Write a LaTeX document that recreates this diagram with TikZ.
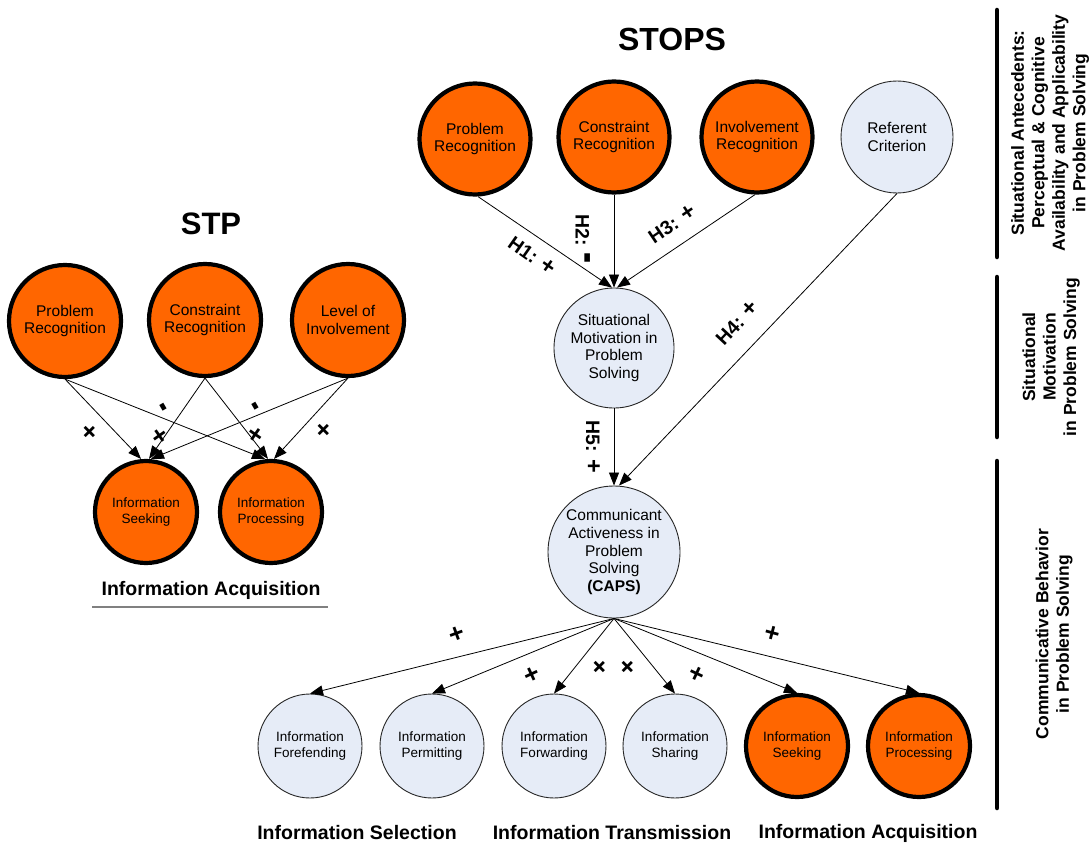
\documentclass[tikz,border=0pt]{standalone}
\usepackage{fontspec}
\setmainfont{Liberation Sans}
\usetikzlibrary{arrows.meta}
\definecolor{hotorange}{HTML}{FF6600}
\definecolor{paleblue}{HTML}{E6ECF7}

\begin{document}
\begin{tikzpicture}[x=1pt,y=-1pt,
  bigtext/.style={font=\fontsize{15.5}{17.8}\selectfont},
  smalltext/.style={font=\fontsize{13.5}{16}\selectfont},
  hot/.style={circle, draw=black, line width=4.2pt, fill=hotorange, inner sep=0pt, align=center},
  cool/.style={circle, draw=black!85, line width=0.9pt, fill=paleblue, inner sep=0pt, align=center},
  link/.style={-{Triangle[length=13pt,width=10pt]}, line width=0.8pt},
  sign/.style={font=\bfseries\fontsize{26}{26}\selectfont, inner sep=0pt},
  hyp/.style={font=\bfseries\fontsize{19.5}{19.5}\selectfont, inner sep=0pt},
  heading/.style={font=\bfseries\fontsize{31}{31}\selectfont, inner sep=0pt},
  grouplabel/.style={font=\bfseries\fontsize{19.5}{22}\selectfont, inner sep=0pt},
  sidetext/.style={font=\bfseries\fontsize{17.5}{20.5}\selectfont, rotate=90, align=center, inner sep=0pt},
  bar/.style={line width=4.5pt, line cap=round}
]
\useasboundingbox (0,0) rectangle (1091,848);

% ---------------- STP ----------------
\node[heading] (stptitle) at (211,224) {STP};
\node[hot, bigtext, minimum size=112pt] (stpPR) at (65,321) {Problem\\Recognition};
\node[hot, bigtext, minimum size=112pt] (stpCR) at (205,320) {Constraint\\Recognition};
\node[hot, bigtext, minimum size=112pt] (stpLI) at (348,320) {Level of\\Involvement};
\node[hot, smalltext, minimum size=102pt] (stpIS) at (146,512) {Information\\Seeking};
\node[hot, smalltext, minimum size=102pt] (stpIP) at (271,512) {Information\\Processing};

\draw[link] (stpPR.south) -- ([xshift=-5pt]stpIS.north);
\draw[link] (stpPR.south) -- ([xshift=-6pt]stpIP.north);
\draw[link] (stpCR.south) -- ([xshift=3pt]stpIS.north);
\draw[link] (stpCR.south) -- ([xshift=-3pt]stpIP.north);
\draw[link] (stpLI.south) -- ([xshift=5pt]stpIS.north);
\draw[link] (stpLI.south) -- ([xshift=3pt]stpIP.north);

\node[sign, rotate=45] (s1) at (90,433) {+};
\node[sign, rotate=-60] (s2) at (160,409) {\scalebox{1}[1.5]{-}};
\node[sign, rotate=35] (s3) at (160,437) {+};
\node[sign, rotate=-60] (s4) at (252,408) {\scalebox{1}[1.5]{-}};
\node[sign, rotate=-35] (s5) at (255,436) {+};
\node[sign, rotate=45] (s6) at (324,431) {+};

\node[grouplabel] (stpacq) at (211,590) {Information Acquisition};
\draw[gray, line width=2pt] (92,607) coordinate (ulA) -- (328,607) coordinate (ulB);

% ---------------- STOPS ----------------
\node[heading, font=\bfseries\fontsize{32}{32}\selectfont] (stopstitle) at (672,39) {STOPS};
\node[hot, bigtext, minimum size=111pt] (PR) at (475,139) {Problem\\Recognition};
\node[hot, bigtext, minimum size=111pt] (CR) at (614,137) {Constraint\\Recognition};
\node[hot, bigtext, minimum size=111pt] (IR) at (757,137) {Involvement\\Recognition};
\node[cool, bigtext, minimum size=112pt] (RC) at (897,137) {Referent\\Criterion};
\node[cool, bigtext, minimum size=120pt] (SM) at (614,348) {Situational\\Motivation in\\Problem\\Solving};
\node[cool, bigtext, minimum size=132pt] (CAPS) at (614,552) {Communicant\\Activeness in\\Problem\\Solving\\\textbf{(CAPS)}};

\draw[link] ([xshift=3pt]PR.south) -- ([xshift=-2pt]SM.north);
\draw[link] (CR.south) -- (SM.north);
\draw[link] ([xshift=-2pt]IR.south) -- ([xshift=3pt]SM.north);
\draw[link] (RC.south) -- ([xshift=5pt]CAPS.north);
\draw[link] (SM.south) -- (CAPS.north);

\node[hyp, rotate=-35] (h1) at (532,256) {H1: \scalebox{1.2}{+}};
\node[hyp, rotate=-90] (h2) at (583,239) {H2: \scalebox{1.7}[2.4]{-}};
\node[hyp, rotate=34] (h3) at (672,224) {H3: \scalebox{1.2}{+}};
\node[hyp, rotate=47] (h4) at (737,323) {H4: \scalebox{1.2}{+}};
\node[hyp, rotate=-90] (h5) at (593,447) {H5: \scalebox{1.2}{+}};

% communicative behaviours
\node[cool, smalltext, minimum size=104pt] (forefend) at (310,746) {Information\\Forefending};
\node[cool, smalltext, minimum size=104pt] (permit) at (432,746) {Information\\Permitting};
\node[cool, smalltext, minimum size=104pt] (forward) at (554,746) {Information\\Forwarding};
\node[cool, smalltext, minimum size=104pt] (share) at (675,746) {Information\\Sharing};
\node[hot, smalltext, minimum size=102pt] (seek) at (797,746) {Information\\Seeking};
\node[hot, smalltext, minimum size=102pt] (process) at (919,746) {Information\\Processing};

\foreach \t in {forefend,permit,forward,share,seek,process}
  \draw[link] (CAPS.south) -- (\t.north);

\node[sign, rotate=20] (b1) at (457,635) {+};
\node[sign, rotate=25] (b2) at (532,675) {+};
\node[sign, rotate=45] (b3) at (600,668) {+};
\node[sign, rotate=45] (b4) at (628,668) {+};
\node[sign, rotate=-25] (b5) at (697,675) {+};
\node[sign, rotate=-15] (b6) at (772,634) {+};

\node[grouplabel] (selection) at (357,833) {Information Selection};
\node[grouplabel] (transmission) at (612,833) {Information Transmission};
\node[grouplabel] (acquisition) at (868,833) {Information Acquisition};

% ---------------- level bars and captions ----------------
\draw[bar] (997,10) coordinate (barAtop) -- (997,257) coordinate (barAbot);
\draw[bar] (997,277) coordinate (barBtop) -- (997,437) coordinate (barBbot);
\draw[bar] (997,461) coordinate (barCtop) -- (997,808) coordinate (barCbot);

\node[sidetext] (levelA) at (1050,133) {Situational Antecedents:\\Perceptual \& Cognitive\\Availability and Applicability\\in Problem Solving};
\node[sidetext] (levelB) at (1051,357) {Situational\\Motivation\\in Problem Solving};
\node[sidetext] (levelC) at (1054,634) {Communicative Behavior\\in Problem Solving};
\end{tikzpicture}
\end{document}
